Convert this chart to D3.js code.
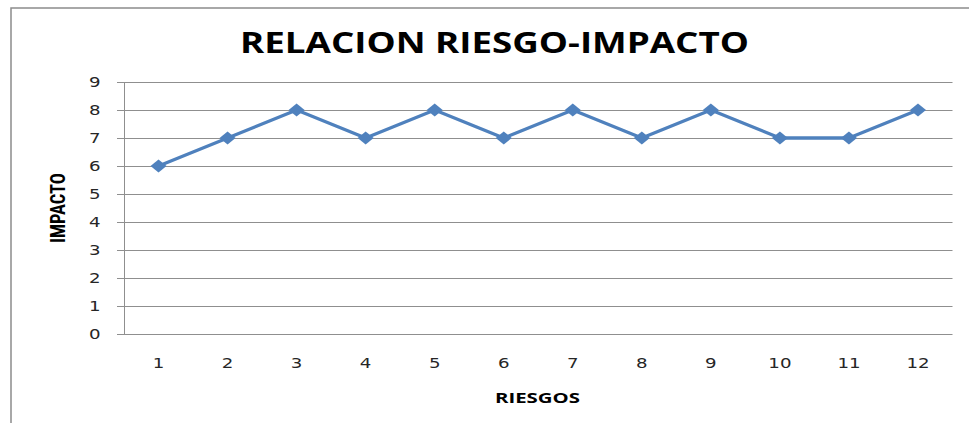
<!DOCTYPE html>
<html>
<head>
<meta charset="utf-8">
<script src="https://cdn.jsdelivr.net/npm/d3@7"></script>
<style>
  html, body { margin: 0; padding: 0; background: #fff; }
  svg { display: block; }
</style>
</head>
<body>
<svg id="chart" width="969" height="423"></svg>
<script>
// Risk vs. impact data
const categories = ["1","2","3","4","5","6","7","8","9","10","11","12"];
const impacto = [6, 7, 8, 7, 8, 7, 8, 7, 8, 7, 7, 8];
const yTicks = [0,1,2,3,4,5,6,7,8,9];
const titleText = "RELACION RIESGO-IMPACTO";
const xTitle = "RIESGOS";
const yTitle = "IMPACTO";

const svg = d3.select("#chart");
const W = 969, H = 423;
const plot = { left: 124, right: 952.5, top: 82, bottom: 334 };
const sx = 1.3; // horizontal widening applied to all labels

// chart frame
svg.append("rect")
  .attr("x", 11).attr("y", 8)
  .attr("width", W + 20).attr("height", H + 20)
  .attr("fill", "#fff").attr("stroke", "#8c8c8c").attr("stroke-width", 1.5);

const x = d3.scaleBand().domain(categories).range([plot.left, plot.right]);
const y = d3.scaleLinear().domain([0, 9]).range([plot.bottom, plot.top]);

// horizontal gridlines with left tick stubs
svg.append("g").selectAll("line").data(yTicks).join("line")
  .attr("x1", plot.left - 7).attr("x2", plot.right)
  .attr("y1", d => y(d) + 0.5).attr("y2", d => y(d) + 0.5)
  .attr("stroke", "#8f8f8f").attr("stroke-width", 1);

// vertical axis line
svg.append("line")
  .attr("x1", plot.left + 0.5).attr("x2", plot.left + 0.5)
  .attr("y1", plot.top).attr("y2", plot.bottom + 0.5)
  .attr("stroke", "#8f8f8f").attr("stroke-width", 1);

// y tick labels
svg.append("g").selectAll("text").data(yTicks).join("text")
  .attr("transform", d => `translate(100.5,${y(d)}) scale(${sx},1)`)
  .attr("dy", "0.36em")
  .attr("text-anchor", "end")
  .attr("font-family", "DejaVu Sans, Verdana, sans-serif")
  .attr("font-size", 14)
  .attr("fill", "#262626")
  .text(d => d);

// x tick labels
svg.append("g").selectAll("text").data(categories).join("text")
  .attr("transform", d => `translate(${x(d) + x.bandwidth() / 2},368) scale(${sx},1)`)
  .attr("text-anchor", "middle")
  .attr("font-family", "DejaVu Sans, Verdana, sans-serif")
  .attr("font-size", 14)
  .attr("fill", "#262626")
  .text(d => d);

// series line
const pts = categories.map((c, i) => [x(c) + x.bandwidth() / 2, y(impacto[i])]);
svg.append("path")
  .attr("d", d3.line()(pts))
  .attr("fill", "none")
  .attr("stroke", "#4f81bd")
  .attr("stroke-width", 3.3)
  .attr("stroke-linejoin", "round");

// diamond markers
svg.append("g").selectAll("path").data(pts).join("path")
  .attr("transform", d => `translate(${d[0]},${d[1]})`)
  .attr("d", "M0,-6.5L8,0L0,6.5L-8,0Z")
  .attr("fill", "#4f81bd");

// titles
svg.append("text")
  .attr("x", 240).attr("y", 53)
  .attr("textLength", 509).attr("lengthAdjust", "spacingAndGlyphs")
  .attr("font-family", "Open Sans, Lato, sans-serif")
  .attr("font-weight", "bold")
  .attr("font-size", 29)
  .attr("fill", "#000")
  .text(titleText);

svg.append("text")
  .attr("x", 495).attr("y", 403)
  .attr("textLength", 85).attr("lengthAdjust", "spacingAndGlyphs")
  .attr("font-family", "Open Sans, Lato, sans-serif")
  .attr("font-weight", "bold")
  .attr("font-size", 15)
  .attr("fill", "#000")
  .text(xTitle);

svg.append("text")
  .attr("transform", `translate(65,208) scale(${sx},1) rotate(-90)`)
  .attr("text-anchor", "middle")
  .attr("textLength", 70).attr("lengthAdjust", "spacingAndGlyphs")
  .attr("font-family", "Liberation Sans Narrow, Roboto Condensed, Open Sans, sans-serif")
  .attr("font-weight", "bold")
  .attr("font-size", 16)
  .attr("fill", "#000")
  .text(yTitle);
</script>
</body>
</html>
